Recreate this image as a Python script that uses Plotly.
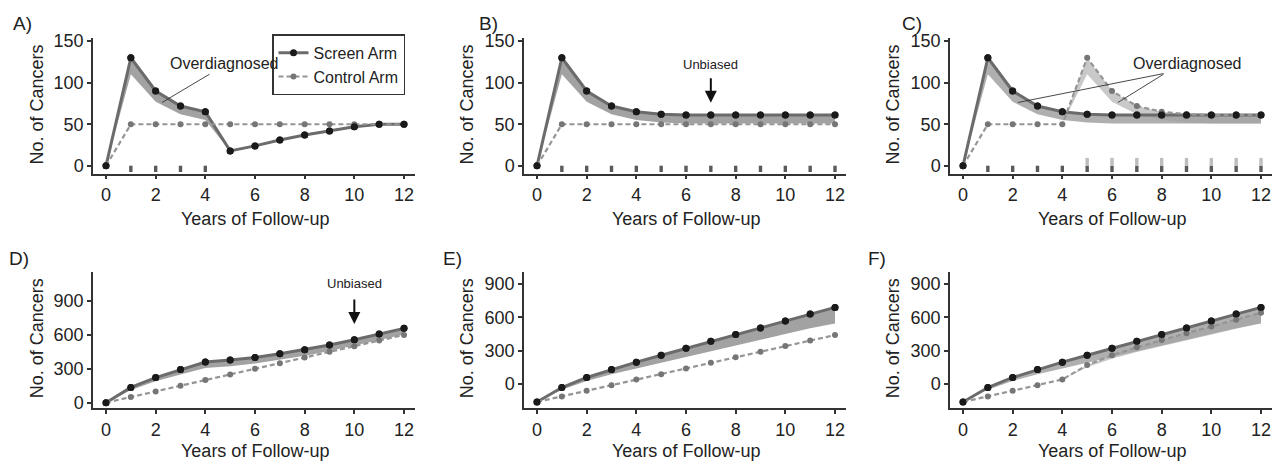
import plotly.graph_objects as go

W, H = 1280, 472

# ---------------- data ----------------
years = [0, 1, 2, 3, 4, 5, 6, 7, 8, 9, 10, 11, 12]

a_screen = [0, 130, 90, 72, 65, 18, 24, 31, 37, 42, 47, 50, 50]
a_screen_low = [0, 110, 77, 62, 55, 18, 24, 31, 37, 42, 47, 50, 50]
a_control = [0, 50, 50, 50, 50, 50, 50, 50, 50, 50, 50, 50, 50]
a_screen_rounds = [1, 2, 3, 4]

b_screen = [0, 130, 90, 72, 65, 62, 61, 61, 61, 61, 61, 61, 61]
b_screen_low = [0, 110, 77, 62, 55, 52, 51, 51, 51, 51, 51, 51, 51]
b_control = [0, 50, 50, 50, 50, 50, 50, 50, 50, 50, 50, 50, 50]
b_screen_rounds = [1, 2, 3, 4, 5, 6, 7, 8, 9, 10, 11, 12]

c_screen = [0, 130, 90, 72, 65, 62, 61, 61, 61, 61, 61, 61, 61]
c_screen_low = [0, 110, 77, 62, 55, 52, 51, 51, 51, 51, 51, 51, 51]
c_control = [0, 50, 50, 50, 50, 130, 90, 72, 65, 62, 61, 61, 61]
c_control_low = [0, 50, 50, 50, 50, 110, 77, 62, 55, 52, 51, 51, 51]
c_screen_rounds = [1, 2, 3, 4, 5, 6, 7, 8, 9, 10, 11, 12]
c_control_rounds = [5, 6, 7, 8, 9, 10, 11, 12]

d_screen = [0, 135, 222, 293, 360, 377, 401, 433, 469, 511, 557, 609, 658]
d_screen_low = [0, 112, 190, 250, 306, 323, 347, 379, 415, 457, 503, 555, 604]
d_control = [0, 50, 100, 150, 200, 250, 300, 350, 400, 450, 500, 550, 600]

e_screen = [-160, -30, 60, 132, 198, 260, 322, 385, 446, 506, 568, 630, 690]
e_screen_low = [-160, -50, 28, 90, 146, 197, 248, 299, 350, 400, 451, 502, 545]
e_control = [-160, -110, -60, -10, 42, 90, 140, 192, 242, 292, 342, 393, 442]

f_screen = [-160, -30, 60, 132, 198, 260, 322, 385, 446, 506, 568, 630, 690]
f_screen_low = [-160, -50, 28, 90, 146, 197, 248, 299, 350, 400, 451, 502, 545]
f_control = [-160, -110, -60, -10, 42, 172, 260, 331, 396, 458, 518, 580, 642]
f_control_low = [-160, -110, -60, -10, 42, 152, 228, 290, 344, 396, 447, 498, 549]

x_tickvals = [0, 2, 4, 6, 8, 10, 12]
y_tickvals_top = [0, 50, 100, 150]
y_tickvals_bottom = [0, 300, 600, 900]
panel_labels = ["A)", "B)", "C)", "D)", "E)", "F)"]

# ---------------- style ----------------
FONT = "Liberation Sans, Arial, Helvetica, sans-serif"
TXT = "#222222"
AX = "#333333"
SCREEN_LINE = "#6b6b6b"
SCREEN_DOT = "#1a1a1a"
CONTROL_LINE = "#959595"
CONTROL_DOT = "#767676"
BAND_DARK = "#a2a2a2"
BAND_LIGHT = "#c9c9c9"
RUG_DARK = "#5a5a5a"
RUG_LIGHT = "#bdbdbd"

col_left = [93, 524, 950]
plot_w = 322
row_top = [32, 271.5]
row_bot = [171, 411.7]
x_range = [-0.5236, 12.443]
y_ranges = [[-9.375, 153.5], [-9.375, 153.5], [-9.375, 153.5],
            [-49.2, 1160.6], [-216.5, 1012], [-216.5, 1012]]

fig = go.Figure()


def ax_ids(n):
    return ("x" if n == 1 else f"x{n}"), ("y" if n == 1 else f"y{n}")


def band(n, upper, lower, color, opacity=1.0):
    xa, ya = ax_ids(n)
    fig.add_trace(go.Scatter(
        x=years + years[::-1], y=upper + lower[::-1], fill="toself",
        fillcolor=color, opacity=opacity, mode="lines", line=dict(width=0),
        hoverinfo="skip", showlegend=False, xaxis=xa, yaxis=ya))


def screen_line(n, vals, legend=False):
    xa, ya = ax_ids(n)
    fig.add_trace(go.Scatter(
        x=years, y=vals, mode="lines+markers", name="Screen Arm",
        line=dict(color=SCREEN_LINE, width=3),
        marker=dict(color=SCREEN_DOT, size=7),
        showlegend=legend, legendrank=1, xaxis=xa, yaxis=ya))


def control_line(n, vals, legend=False):
    xa, ya = ax_ids(n)
    fig.add_trace(go.Scatter(
        x=years, y=vals, mode="lines+markers", name="Control Arm",
        line=dict(color=CONTROL_LINE, width=2.2, dash="5px,3px"),
        marker=dict(color=CONTROL_DOT, size=6),
        showlegend=legend, legendrank=2, xaxis=xa, yaxis=ya))


def screen_dots(n, vals):
    xa, ya = ax_ids(n)
    fig.add_trace(go.Scatter(
        x=years, y=vals, mode="markers", marker=dict(color=SCREEN_DOT, size=7),
        showlegend=False, hoverinfo="skip", xaxis=xa, yaxis=ya))


def rug(n, rounds, color, center, size):
    xa, ya = ax_ids(n)
    fig.add_trace(go.Scatter(
        x=rounds, y=[center] * len(rounds), mode="markers",
        marker=dict(symbol="line-ns", size=size, line=dict(color=color, width=3.4)),
        showlegend=False, hoverinfo="skip", xaxis=xa, yaxis=ya, cliponaxis=False))


# Panel A
band(1, a_screen, a_screen_low, BAND_DARK)
screen_line(1, a_screen, legend=True)
control_line(1, a_control, legend=True)
screen_dots(1, a_screen)
rug(1, a_screen_rounds, RUG_DARK, -3.6, 4.5)

# Panel B
band(2, b_screen, b_screen_low, BAND_DARK)
screen_line(2, b_screen)
control_line(2, b_control)
screen_dots(2, b_screen)
rug(2, b_screen_rounds, RUG_DARK, -3.6, 4.5)

# Panel C
band(3, c_control, c_control_low, BAND_LIGHT)
band(3, c_screen, c_screen_low, BAND_DARK, 0.85)
screen_line(3, c_screen)
control_line(3, c_control)
screen_dots(3, c_screen)
rug(3, c_screen_rounds, RUG_DARK, -3.6, 4.5)
rug(3, c_control_rounds, RUG_LIGHT, 4.8, 5.7)

# Panel D
band(4, d_screen, d_screen_low, BAND_DARK)
screen_line(4, d_screen)
control_line(4, d_control)
screen_dots(4, d_screen)

# Panel E
band(5, e_screen, e_screen_low, BAND_DARK)
screen_line(5, e_screen)
control_line(5, e_control)
screen_dots(5, e_screen)

# Panel F
band(6, f_control, f_control_low, BAND_LIGHT)
band(6, f_screen, f_screen_low, BAND_DARK, 0.85)
screen_line(6, f_screen)
control_line(6, f_control)
screen_dots(6, f_screen)

# ---------------- axes ----------------
layout_axes = {}
for i in range(6):
    n = i + 1
    r, c = divmod(i, 3)
    xname = "xaxis" if n == 1 else f"xaxis{n}"
    yname = "yaxis" if n == 1 else f"yaxis{n}"
    xa, ya = ax_ids(n)
    layout_axes[xname] = dict(
        domain=[col_left[c] / W, (col_left[c] + plot_w) / W],
        range=x_range, anchor=ya, showline=True, linecolor=AX, linewidth=1.5,
        ticks="outside", ticklen=4, tickwidth=1.5, tickcolor=AX,
        tickvals=x_tickvals, showgrid=False, zeroline=False,
        tickfont=dict(family=FONT, size=18, color=TXT), fixedrange=True)
    layout_axes[yname] = dict(
        domain=[1 - row_bot[r] / H, 1 - row_top[r] / H],
        range=y_ranges[i], anchor=xa, showline=True, linecolor=AX, linewidth=1.5,
        ticks="outside", ticklen=4, tickwidth=1.5, tickcolor=AX,
        tickvals=y_tickvals_top if r == 0 else y_tickvals_bottom,
        showgrid=False, zeroline=False,
        tickfont=dict(family=FONT, size=18, color=TXT), fixedrange=True)

annotations = []
# axis titles and panel labels
ytitle_x = [37, 467, 893]
ytitle_y = [100, 340]
xtitle_y = [218, 456]
label_pos = [(22, 17), (488, 17), (912, 17), (19, 258), (452, 258), (877, 258)]
for i in range(6):
    r, c = divmod(i, 3)
    annotations.append(dict(
        text="Years of Follow-up", xref="paper", yref="paper",
        x=(col_left[c] + 13 + 149) / W, y=1 - xtitle_y[r] / H,
        showarrow=False, xanchor="center", yanchor="middle",
        font=dict(family=FONT, size=18, color=TXT)))
    annotations.append(dict(
        text="No. of Cancers", xref="paper", yref="paper",
        x=ytitle_x[c] / W, y=1 - ytitle_y[r] / H, textangle=-90,
        showarrow=False, xanchor="center", yanchor="middle",
        font=dict(family=FONT, size=18, color=TXT)))
    lx, ly = label_pos[i]
    annotations.append(dict(
        text=panel_labels[i], xref="paper", yref="paper",
        x=lx / W, y=1 - ly / H, showarrow=False, xanchor="center", yanchor="middle",
        font=dict(family=FONT, size=19, color=TXT)))

# "Overdiagnosed" labels
ov_font = dict(family=FONT, size=16, color=TXT)
annotations.append(dict(text="Overdiagnosed", xref="x", yref="y", x=4.77, y=123,
                        showarrow=False, font=ov_font))
annotations.append(dict(text="", xref="x", yref="y", x=2.255, y=76.2,
                        axref="x", ayref="y", ax=4.23, ay=111.3, showarrow=True,
                        arrowhead=0, arrowwidth=0.9, arrowcolor=AX))
annotations.append(dict(text="Overdiagnosed", xref="x3", yref="y3", x=9.04, y=123,
                        showarrow=False, font=ov_font))
for tx in (2.215, 6.24):
    annotations.append(dict(text="", xref="x3", yref="y3", x=tx, y=76.2,
                            axref="x3", ayref="y3", ax=8.135, ay=111.3, showarrow=True,
                            arrowhead=0, arrowwidth=0.9, arrowcolor=AX))

# "Unbiased" labels with arrows
ub_font = dict(family=FONT, size=13, color=TXT)
annotations.append(dict(text="Unbiased", xref="x2", yref="y2", x=7, y=122,
                        showarrow=False, font=ub_font))
annotations.append(dict(text="", xref="x2", yref="y2", x=7, y=76,
                        axref="x2", ayref="y2", ax=7, ay=107, showarrow=True,
                        arrowhead=2, arrowsize=1.2, arrowwidth=2, arrowcolor="#111"))
annotations.append(dict(text="Unbiased", xref="x4", yref="y4", x=10, y=1053,
                        showarrow=False, font=ub_font))
annotations.append(dict(text="", xref="x4", yref="y4", x=10, y=696,
                        axref="x4", ayref="y4", ax=10, ay=926, showarrow=True,
                        arrowhead=2, arrowsize=1.2, arrowwidth=2, arrowcolor="#111"))

fig.update_layout(
    width=W, height=H, autosize=False,
    margin=dict(l=0, r=0, t=0, b=0),
    paper_bgcolor="white", plot_bgcolor="white",
    font=dict(family=FONT, color=TXT),
    showlegend=True,
    legend=dict(x=405 / W, y=1 - 28 / H, xanchor="right", yanchor="top",
                bgcolor="white", bordercolor=AX, borderwidth=1.5,
                font=dict(family=FONT, size=16, color=TXT),
                itemwidth=30, tracegroupgap=0, traceorder="normal"),
    annotations=annotations,
    **layout_axes,
)

fig.write_html(
    "out.html",
    config={"displayModeBar": False},
    post_script="document.body.style.margin='0';document.body.style.overflow='hidden';",
)
